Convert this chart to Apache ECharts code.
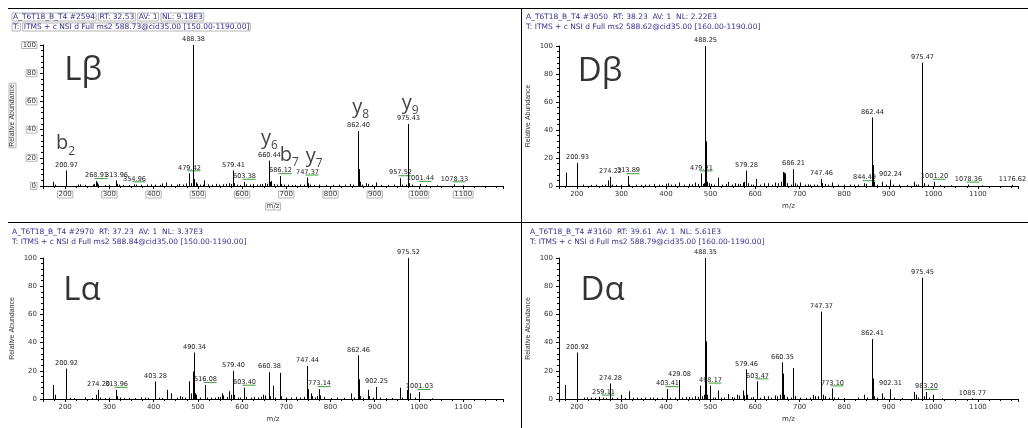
<!DOCTYPE html>
<html>
<head>
<meta charset="utf-8">
<script src="https://cdn.jsdelivr.net/npm/echarts@6/dist/echarts.min.js"></script>
<style>
  html, body { margin: 0; background: #fff; }
  #chart { width: 1028px; height: 428px; }
</style>
</head>
<body>
<div id="chart"></div>
<script>
// ---- spectra: [m/z, relative abundance %] ----
const lbPeaks = [
  [172.5,3],[176,1],[200.97,11],[228,1],[233,1.2],[245,0.8],[262,1],[266,1.5],[268.91,3.5],[271,2.5],[274,1.2],
  [290,0.7],[300,0.8],[313.96,4],[317,1.5],[322,1],[330,0.8],[345,0.7],[354.96,1.2],[360,1],[371,0.8],[386,1],
  [395,1.2],[404,1],[414,0.8],[420,1.8],[427,2.5],[440,1.2],[452,1],[458,1.5],[466,1],[473,1.8],[479.42,9],[484,2],
  [488.38,100],[490,12],[492,5],[495,2.5],[499,1.5],[505,1],[512,1],[515,4],[524,1.2],[533,1],[541,1.5],[548,1],
  [556,1.2],[563,1.5],[570,2],[574,1.5],[579.41,11],[582,2],[589,1],[596,0.8],[603.38,3],[610,1.2],[617,1],[625,1.5],
  [633,1],[640,1.2],[646,1.5],[652,2],[656,1.5],[660.44,18],[663,3],[666,3.5],[672,1.5],[679,1],[686.12,7],[688,1.5],
  [695,1],[703,1],[712,0.7],[720,0.8],[731,1],[741,1],[747.37,6],[750,2],[754,1],[762,0.8],[773,1],[790,0.8],[805,0.8],
  [820,1],[833,1],[845,1.5],[850,1],[862.40,39],[864,12],[866,3],[872,1],[880,2],[885,1.5],[893,0.8],[902,2.5],
  [915,0.8],[930,0.8],[944,1],[957.52,5.5],[962,1],[970,1],[975.43,44],[978,2],[985,1],[1001.44,1.5],[1015,0.7],
  [1040,0.5],[1078.33,1.2],[1100,0.5]
];
const lbLabeled = [200.97,268.91,313.96,354.96,479.42,488.38,579.41,603.38,660.44,686.12,747.37,862.40,957.52,975.43,1001.44,1078.33];
const lbFlagged = [268.91,354.96,479.42,603.38,686.12,747.37,957.52,1001.44,1078.33];

const dbPeaks = [
  [175,9.5],[200.93,16.5],[213,1],[232,0.8],[243,1],[256,0.8],[263,1],[270,4],[274.22,6.5],[279,1],[289,0.8],[300,0.8],
  [313.89,7],[318,1],[332,1],[345,0.8],[353,1],[362,1],[374,1.5],[385,1],[391,0.8],[400,1.5],[404,2],[412,1],[421,1.2],
  [430,2.5],[440,1],[452,1.5],[459,1.2],[465,2.5],[472,1.5],[479.21,9],[484,1.5],[486,2],[488.25,100],[490,32],[493,3],
  [496,2],[500,1.5],[508,1],[517,6],[525,1],[534,1.5],[540,3],[548,1],[556,2],[561,1.5],[566,1.5],[572,2.5],[576,3],
  [579.28,11],[583,2],[590,1],[596,1],[603,5],[612,1],[620,2],[630,2],[638,1],[645,2.5],[652,2],[659,3],[662,10],
  [664,9.5],[667,9],[672,2],[680,1],[686.21,12],[689,2],[695,1],[701,2.5],[712,1],[719,1.2],[724,1],[733,1],[740,1],
  [747.46,5],[751,2],[757,1.5],[764,1],[773,2.5],[785,1],[800,1],[812,1],[823,1],[832,1],[844.49,2],[848,1.5],
  [862.44,49],[864,15],[867,3],[873,1],[884,3],[893,1],[902.24,4.5],[910,1],[922,1],[940,0.8],[957,3],[961,1],[966,1],
  [975.47,88],[978,2],[988,1],[1001.20,3],[1015,0.7],[1040,0.5],[1078.36,1],[1110,0.5],[1176.62,0.8]
];
const dbLabeled = [200.93,274.22,313.89,479.21,488.25,579.28,686.21,747.46,844.49,862.44,902.24,975.47,1001.20,1078.36,1176.62];
const dbFlagged = [313.89,479.21,844.49,1001.20,1078.36];

const laPeaks = [
  [173,10],[176,3],[200.92,21.5],[212,0.8],[220,0.7],[245,1.2],[260,0.7],[270,3],[274.20,6.5],[279,1],[291,0.7],
  [300,1],[313.96,6.5],[318,2],[325,1],[334,0.7],[345,0.8],[357,0.7],[372,1.2],[380,1],[388,0.8],[403.28,12.5],
  [412,1],[420,0.8],[430,6.5],[440,4],[452,1],[460,2],[465,1.5],[472,1],[480,12.5],[485,4],[488,19.5],[490.34,33],
  [493,4],[496,3],[505,1],[516.08,10],[520,1],[530,1],[538,1],[545,1.5],[551,1.5],[555,4],[558,2.5],[565,1.5],
  [570,5.5],[574,3],[579.40,20],[582,3],[590,1],[596,1],[603.40,8],[610,1.5],[620,1],[628,1.5],[636,1],[642,1.5],
  [648,3],[652,2.5],[660.38,19],[663,2],[669,9.5],[675,1],[686,18.5],[689,2],[700,1],[710,1],[722,1.5],[732,1],
  [740,1.5],[747.44,23.5],[750,7],[755,4],[758,2],[765,1],[769,2],[773.14,7],[776,2.5],[785,1.5],[800,0.7],[814,1],
  [830,0.8],[846,4],[852,1],[862.46,31],[864,14],[867,2],[874,1],[884,6.5],[887,2],[896,1],[902.25,8.5],[912,1],
  [925,0.7],[940,0.7],[957,8],[962,1],[973,6.5],[975.52,100],[980,4],[990,1],[1001.03,5],[1030,0.5]
];
const laLabeled = [200.92,274.20,313.96,403.28,490.34,516.08,579.40,603.40,660.38,747.44,773.14,862.46,902.25,975.52,1001.03];
const laFlagged = [313.96,516.08,603.40,773.14,1001.03];

const daPeaks = [
  [174,10],[200.92,33],[215,1],[222,1],[232,1],[240,0.8],[250,1.5],[259.11,1],[265,0.8],[274.28,11],[280,1],[290,0.8],
  [300,3],[308,0.7],[318,5.5],[327,1],[335,1],[345,0.8],[353,1],[365,1],[372,1],[381,0.8],[392,1],[403.41,7],[410,1],
  [420,1],[429.08,13.5],[437,1],[445,1.5],[452,1.5],[458,1],[466,2],[472,1.5],[477,9.5],[482,2],[485,3],[488.35,100],
  [490,41],[493,3],[498.17,9.5],[505,1],[510,1],[517,6],[523,1],[531,1],[540,3.5],[548,1.5],[553,1],[560,3],[564,2.5],
  [572,6],[576,2.5],[579.46,21],[582,3],[590,1],[596,1.5],[603.47,12.5],[612,1],[620,2],[628,2],[636,1],[644,2.5],
  [650,2],[656,3],[660.35,26],[663,18],[666,3],[672,1.5],[680,1],[686,22],[689,2],[700,1],[714,0.8],[724,1],[730,3],
  [735,2],[741,2],[747.37,62],[749,14.5],[752,3],[756,2],[765,1],[773.10,7.5],[778,1],[785,1],[800,0.7],[830,1],
  [845,3],[852,1],[862.41,42.5],[864,14.5],[867,2],[873,1],[884,4],[890,1],[902.31,7],[912,1],[930,0.7],[957,5],
  [961,3],[966,1],[975.45,86],[978,2],[983.20,5],[990,1],[1000,3],[1020,0.5],[1085.77,0.5]
];
const daLabeled = [200.92,259.11,274.28,403.41,429.08,488.35,498.17,579.46,603.47,660.35,747.37,773.10,862.41,902.31,975.45,983.20,1085.77];
const daFlagged = [259.11,403.41,498.17,603.47,773.10,983.20];

// annotation text, placed at [m/z, %] in each panel
const panelNames = [['Lβ',241,82],['Dβ',252,82],['Lα',238,77],['Dα',258,77]];
const lbIons = [['b','2',201,30],['y','6',662,34],['b','7',707,22],['y','7',763,21],['y','8',868,56],['y','9',980,59]];

const headers = [
  ['A_T6T18_B_T4 #2594','RT: 32.53','AV: 1','NL: 9.18E3','588.73','150.00-1190.00'],
  ['A_T6T18_B_T4 #3050','RT: 38.23','AV: 1','NL: 2.22E3','588.62','160.00-1190.00'],
  ['A_T6T18_B_T4 #2970','RT: 37.23','AV: 1','NL: 3.37E3','588.84','150.00-1190.00'],
  ['A_T6T18_B_T4 #3160','RT: 39.61','AV: 1','NL: 5.61E3','588.79','160.00-1190.00']
];
const xMins = [150, 160, 150, 160];

const FONT = '"Liberation Sans", Arial, sans-serif';
const WIDE_FONT = '"DejaVu Sans", Verdana, sans-serif';
const BIG_FONT = '"Open Sans", "Noto Sans", sans-serif';

const grids = [
  { left: 43, top: 45, width: 460, height: 141 },
  { left: 559, top: 46, width: 459, height: 140 },
  { left: 43, top: 258, width: 460, height: 141 },
  { left: 559, top: 258, width: 459, height: 141 }
];
const headerPos = [[12, 12], [526, 12], [12, 227], [530, 227]];

const boxStyle = { borderColor: '#b4b4b4', borderWidth: 1, padding: [0, 1, 0, 1] };

function makeX(i) {
  const boxed = i === 0;
  return {
    type: 'value', gridIndex: i, min: xMins[i], max: 1190, splitNumber: 10,
    name: 'm/z', nameLocation: 'middle', nameGap: 17,
    nameTextStyle: Object.assign({ fontSize: 7, fontFamily: WIDE_FONT, color: '#333' }, boxed ? boxStyle : {}),
    axisLine: { onZero: false, lineStyle: { color: '#000', width: 1 } },
    axisTick: { length: 3, lineStyle: { color: '#000' } },
    minorTick: { show: true, splitNumber: 4, length: 2, lineStyle: { color: '#000' } },
    axisLabel: Object.assign({ fontSize: 7, fontFamily: WIDE_FONT, color: '#333', margin: 5,
      showMinLabel: false, showMaxLabel: false, formatter: v => String(v) }, boxed ? boxStyle : {}),
    splitLine: { show: false }
  };
}

function makeY(i) {
  const boxed = i === 0;
  return {
    type: 'value', gridIndex: i, min: 0, max: 100, interval: 20,
    name: 'Relative Abundance', nameLocation: 'middle', nameGap: 27, nameRotate: 90,
    nameTextStyle: Object.assign({ fontSize: 7, fontFamily: FONT, color: '#333' }, boxed ? boxStyle : {}),
    axisLine: { show: true, lineStyle: { color: '#000', width: 1 } },
    axisTick: { length: 3, lineStyle: { color: '#000' } },
    minorTick: { show: true, splitNumber: 5, length: 2, lineStyle: { color: '#000' } },
    axisLabel: Object.assign({ fontSize: 7, fontFamily: WIDE_FONT, color: '#333', margin: 6 }, boxed ? boxStyle : {}),
    splitLine: { show: false }
  };
}

function stickSeries(i, peaks, labeled, flagged) {
  return {
    type: 'custom', xAxisIndex: i, yAxisIndex: i, silent: true, animation: false,
    data: peaks,
    renderItem: (params, api) => {
      const mz = api.value(0), ab = api.value(1);
      const p0 = api.coord([mz, 0]);
      const p1 = api.coord([mz, ab]);
      const x = Math.round(p0[0]) + 0.5;
      const children = [{
        type: 'line',
        shape: { x1: x, y1: p0[1], x2: x, y2: p1[1] },
        style: { stroke: '#000', lineWidth: 1 }
      }];
      if (labeled.includes(mz)) {
        children.push({
          type: 'text', x: x, y: p1[1] - 2,
          style: { text: mz.toFixed(2), fontSize: 6.6, fontFamily: WIDE_FONT, fill: '#222',
            align: 'center', verticalAlign: 'bottom' }
        });
        if (flagged.includes(mz)) {
          children.push({
            type: 'line',
            shape: { x1: x - 2, y1: p1[1] - 2.5, x2: x + 11, y2: p1[1] - 2.5 },
            style: { stroke: '#3c9c3c', lineWidth: 1 }
          });
        }
      }
      return { type: 'group', children };
    }
  };
}

function textSeries(i, items) {
  return {
    type: 'scatter', xAxisIndex: i, yAxisIndex: i, symbolSize: 0, silent: true,
    data: items,
    label: {
      show: true, position: 'inside', color: '#000',
      formatter: p => p.data.t,
      rich: {
        big: { fontSize: 33, fontFamily: BIG_FONT, color: '#000' },
        m: { fontSize: 20, fontFamily: BIG_FONT, color: '#111', lineHeight: 27, verticalAlign: 'middle' },
        s: { fontSize: 12, fontFamily: BIG_FONT, color: '#111', lineHeight: 27, verticalAlign: 'bottom' }
      }
    }
  };
}

const titles = headers.map((h, i) => {
  const line2 = 'ITMS + c NSI d Full ms2 ' + h[4] + '@cid35.00 [' + h[5] + ']';
  const boxed = i === 0;
  const text = boxed
    ? '{b|' + h[0] + '} {b|' + h[1] + '} {b|' + h[2] + '} {b|' + h[3] + '}\n{b|T:} {b|' + line2 + '}'
    : '{n|' + h[0] + '  ' + h[1] + '  ' + h[2] + '  ' + h[3] + '}\n{n|T: ' + line2 + '}';
  return {
    left: headerPos[i][0], top: headerPos[i][1], padding: 0, text,
    textStyle: {
      fontSize: 7.5, fontWeight: 'normal', color: '#33338f', fontFamily: WIDE_FONT,
      rich: {
        b: Object.assign({ fontSize: 7.5, color: '#33338f', fontFamily: WIDE_FONT, lineHeight: 10 }, boxStyle),
        n: { fontSize: 7.5, color: '#33338f', fontFamily: WIDE_FONT, lineHeight: 10 }
      }
    }
  };
});

const spectra = [
  [lbPeaks, lbLabeled, lbFlagged],
  [dbPeaks, dbLabeled, dbFlagged],
  [laPeaks, laLabeled, laFlagged],
  [daPeaks, daLabeled, daFlagged]
];

const series = [];
spectra.forEach((s, i) => series.push(stickSeries(i, s[0], s[1], s[2])));
panelNames.forEach((p, i) => series.push(textSeries(i, [{ value: [p[1], p[2]], t: '{big|' + p[0] + '}' }])));
series.push(textSeries(0, lbIons.map(d => ({ value: [d[2], d[3]], t: '{m|' + d[0] + '}{s|' + d[1] + '}' }))));

const chart = echarts.init(document.getElementById('chart'));
chart.setOption({
  backgroundColor: '#fff',
  animation: false,
  title: titles,
  grid: grids,
  xAxis: [0, 1, 2, 3].map(makeX),
  yAxis: [0, 1, 2, 3].map(makeY),
  graphic: [
    { type: 'line', shape: { x1: 8, y1: 8.5, x2: 1028, y2: 8.5 }, style: { stroke: '#000', lineWidth: 1 } },
    { type: 'line', shape: { x1: 8, y1: 222.5, x2: 1028, y2: 222.5 }, style: { stroke: '#000', lineWidth: 1 } },
    { type: 'line', shape: { x1: 521.5, y1: 8, x2: 521.5, y2: 428 }, style: { stroke: '#000', lineWidth: 1 } }
  ],
  series
});
</script>
</body>
</html>
